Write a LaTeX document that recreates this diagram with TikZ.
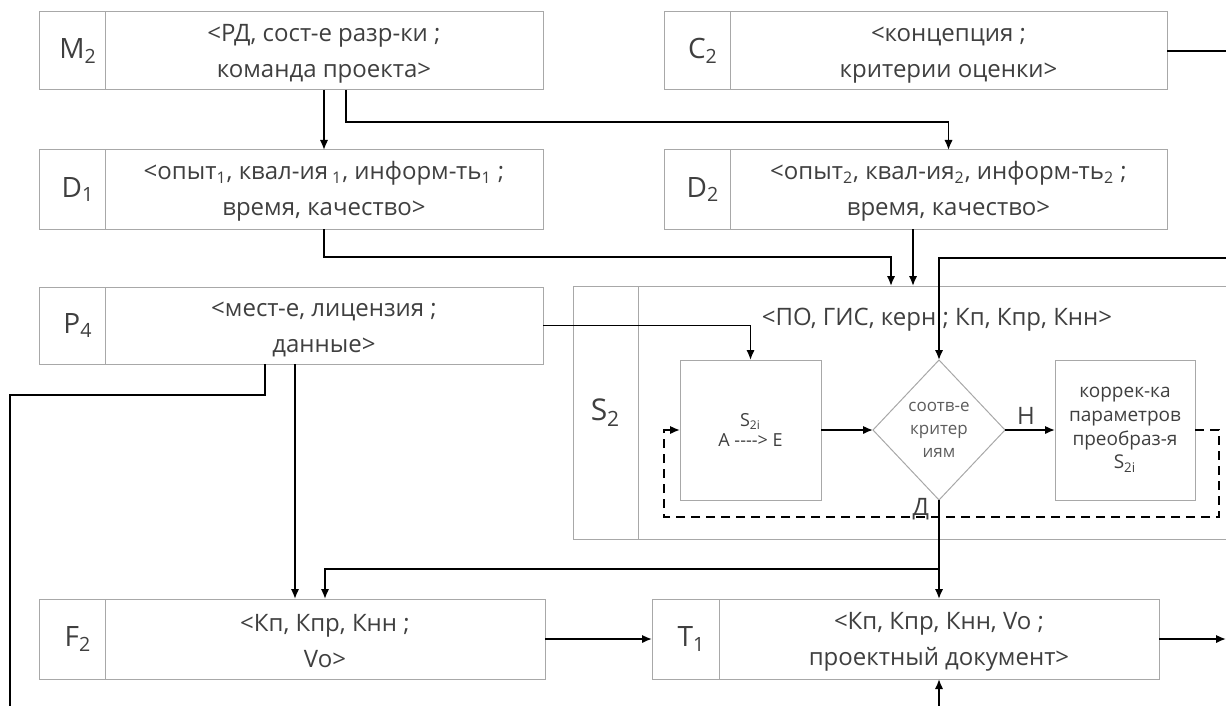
\documentclass[tikz,border=0pt]{standalone}
\usepackage{fontspec}
\setmainfont{Open Sans}
\usetikzlibrary{arrows.meta,shapes.geometric}
\definecolor{boxline}{HTML}{A8A8A8}
\definecolor{ink}{HTML}{3F3F3F}
\begin{document}
\begin{tikzpicture}[x=0.5pt,y=-0.5pt,
  every node/.style={outer sep=0pt, text=ink},
  framebox/.style={draw=boxline, line width=0.5pt, inner sep=0pt},
  tagbox/.style={framebox, minimum width=33pt, minimum height=39pt},
  bodybox/.style={framebox, minimum height=39pt, align=center,
    font=\fontsize{12}{18}\selectfont, text height=29pt},
  tagtxt/.style={xshift=3pt, inner sep=0pt, text=ink, font=\fontsize{14}{16}\selectfont},
  connline/.style={line width=0.9pt, draw=black},
  arrline/.style={connline, -{Latex[length=5pt,width=4.2pt]}},
  marktxt/.style={inner sep=0pt, text=ink, font=\fontsize{12}{14}\selectfont},
]
\useasboundingbox (0,0) rectangle (1226,706);
\clip (0,0) rectangle (1226,706);

% --- row 1 ---
\node[tagbox, label={[tagtxt]center:M\textsubscript{2}}] (m2t) at (72,51) {};
\node[bodybox, minimum width=219pt, anchor=west] (m2) at (m2t.east)
  {<РД, сост-е разр-ки ;\\команда проекта>};
\node[tagbox, label={[tagtxt]center:C\textsubscript{2}}] (c2t) at (697,51) {};
\node[bodybox, minimum width=218.5pt, anchor=west] (c2) at (c2t.east)
  {<концепция ;\\критерии оценки>};

% --- row 2 ---
\node[tagbox, minimum height=39.5pt, label={[tagtxt]center:D\textsubscript{1}}] (d1t) at (72,189.5) {};
\node[bodybox, minimum height=39.5pt, minimum width=219pt, anchor=west] (d1) at (d1t.east)
  {<опыт\textsubscript{1}, квал-ия\,\textsubscript{1}, информ-ть\textsubscript{1} ;\\время, качество>};
\node[tagbox, minimum height=39.5pt, label={[tagtxt]center:D\textsubscript{2}}] (d2t) at (697,189.5) {};
\node[bodybox, minimum height=39.5pt, minimum width=218.5pt, anchor=west] (d2) at (d2t.east)
  {<опыт\textsubscript{2}, квал-ия\textsubscript{2}, информ-ть\textsubscript{2} ;\\время, качество>};

% --- row 3 ---
\node[tagbox, minimum height=38.5pt, label={[tagtxt]center:P\textsubscript{4}}] (p4t) at (72,325.5) {};
\node[bodybox, minimum height=38.5pt, minimum width=219pt, anchor=west] (p4) at (p4t.east)
  {<мест-е, лицензия ;\\данные>};

% --- process S2 ---
\node[tagbox, minimum width=32.5pt, minimum height=126.5pt,
  label={[inner sep=0pt, text=ink, font=\fontsize{15}{17}\selectfont]center:S\textsubscript{2}}] (s2t) at (605.5,412.5) {};
\node[framebox, minimum width=301pt, minimum height=126.5pt, anchor=west] (s2) at (s2t.east) {};
\node[inner sep=0pt, font=\fontsize{12}{14}\selectfont] (s2title) at (937,320)
  {<ПО, ГИС, керн ; Кп, Кпр, Кнн>};

\node[framebox, minimum width=70.5pt, minimum height=70pt, align=center,
  font=\fontsize{9}{10}\selectfont] (s2i) at (750.5,430)
  {S\textsubscript{2i}\\A -{}-{}-{}-> E};
\node[diamond, framebox, minimum width=66pt, minimum height=70pt, align=center,
  font=\fontsize{8.5}{11.5}\selectfont, text=ink!85] (dia) at (939,430)
  {соотв-е\\критер\\иям};
\node[framebox, minimum width=70pt, minimum height=70pt, align=center,
  font=\fontsize{9.5}{11.8}\selectfont] (corr) at (1125,430)
  {коррек-ка\\параметров\\преобраз-я\\S\textsubscript{2i}};

% --- bottom row ---
\node[tagbox, minimum height=40pt, label={[tagtxt]center:F\textsubscript{2}}] (f2t) at (72,639) {};
\node[bodybox, minimum height=40pt, minimum width=220pt, anchor=west] (f2) at (f2t.east)
  {<Кп, Кпр, Кнн ;\\Vo>};
\node[tagbox, minimum width=33.5pt, minimum height=40pt, label={[tagtxt]center:T\textsubscript{1}}] (t1t) at (685.5,639) {};
\node[bodybox, minimum height=40pt, minimum width=220pt, anchor=west] (t1) at (t1t.east)
  {<Кп, Кпр, Кнн, Vo ;\\проектный документ>};

% --- bend points and free ends ---
\coordinate (m2b) at (346,122);
\coordinate (d1b) at (324,257);
\coordinate (x891) at (891,0);
\coordinate (x913) at (913,0);
\coordinate (c2end) at (1230,51);
\coordinate (crit) at (1230,258);
\coordinate (p4a) at (265,395);
\coordinate (p4end) at (10,710);
\coordinate (x295) at (295,0);
\coordinate (loopr) at (1219,517);
\coordinate (loopl) at (664,517);
\coordinate (split) at (939,569);
\coordinate (outr) at (1226,639);
\coordinate (inb) at (939,710);

% --- connectors ---
\draw[arrline] (m2.south) -- (d1.north);
\draw[arrline] (m2.south -| m2b) -- (m2b) -| (d2.north);
\draw[connline] (c2.east) -- (c2end);
\draw[arrline] (d1.south) -- (d1b) -| (s2.north -| x891);
\draw[arrline] (d2.south -| x913) -- (s2.north -| x913);
\draw[arrline] (crit) -| (dia.north);
\draw[arrline] (p4.east) -| (s2i.north);
\draw[connline] (p4.south -| p4a) -- (p4a) -- (p4a -| p4end) -- (p4end);
\draw[arrline] (p4.south -| x295) -- (f2.north -| x295);
\draw[arrline] (s2i.east) -- (dia.west);
\draw[arrline] (dia.east) -- node[above, marktxt, yshift=3pt, xshift=-2pt] (no) {Н} (corr.west);
\draw[arrline, dash pattern=on 4.5pt off 3pt] (corr.east) -| (loopr) -- (loopl) |- (s2i.west);
\draw[arrline] (dia.south) node[marktxt, anchor=north east, xshift=-5pt, yshift=1pt] (yes) {Д} -- (t1.north);
\draw[arrline] (split) -| (f2.north);
\draw[arrline] (f2.east) -- (t1t.west);
\draw[arrline] (t1.east) -- (outr);
\draw[arrline] (inb) -- (t1.south);
\end{tikzpicture}
\end{document}
